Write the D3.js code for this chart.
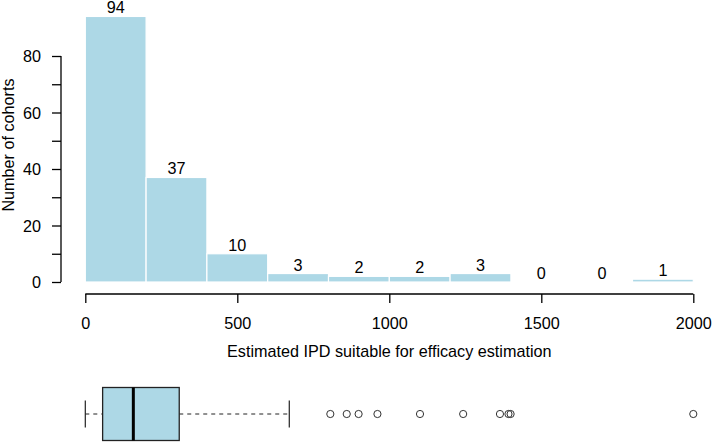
<!DOCTYPE html>
<html><head><meta charset="utf-8">
<script src="https://cdn.jsdelivr.net/npm/d3@7"></script>
<style>
body{margin:0;background:#fff;}
text{font-family:"Liberation Sans",Arial,sans-serif;fill:#000;}
</style></head><body>
<svg id="c" width="712" height="442"></svg>
<script>
// Data
const binEdges = [0,200,400,600,800,1000,1200,1400,1600,1800,2000];
const counts = [94,37,10,3,2,2,3,0,0,1];
const yTicks = [0,10,20,30,40,50,60,70,80];
const yTickLabels = [0,20,40,60,80];
const xTicks = [0,500,1000,1500,2000];
// boxplot stats: lower whisker, Q1, median, Q3, upper whisker
const boxStats = [0,57,158,309,671];
const outliers = [806,860,899,961,1101,1243,1364,1392,1399,2000];
const xLabel = "Estimated IPD suitable for efficacy estimation";
const yLabel = "Number of cohorts";

const svg = d3.select("#c");
const fs = 16.2;
const ff = '"Liberation Sans",Arial,sans-serif';
const x = d3.scaleLinear().domain([0,2000]).range([85.3,693.3]);
const y = d3.scaleLinear().domain([0,80]).range([282,56]);
const fill = "#ADD8E6";

// bars
const bins = counts.map((c,i)=>({x0:binEdges[i],x1:binEdges[i+1],c}));
svg.append("g").selectAll("rect").data(bins).join("rect")
  .attr("x",d=>x(d.x0)).attr("width",d=>x(d.x1)-x(d.x0))
  .attr("y",d=>y(d.c)).attr("height",d=>y(0)-y(d.c))
  .attr("fill",fill).attr("stroke","#fff").attr("stroke-width",1.2);
svg.append("g").selectAll("text").data(bins).join("text")
  .attr("x",d=>x((d.x0+d.x1)/2)).attr("y",d=>y(d.c)-3)
  .attr("text-anchor","middle").attr("font-size",fs)
  .text(d=>d.c);

// y axis
const yAxis = d3.axisLeft(y).tickValues(yTicks).tickSize(9)
  .tickFormat(d=>yTickLabels.includes(d)?d:"");
const gy = svg.append("g").attr("transform","translate(61,0)").call(yAxis);
gy.select(".domain").attr("d",`M0,${y(0)}V${y(80)}`).attr("stroke","#000").attr("stroke-width",1.3);
gy.selectAll(".tick line").attr("stroke","#000").attr("stroke-width",1.3);
gy.selectAll(".tick text").attr("font-size",fs).attr("font-family",ff).attr("x",-20).attr("dy","0.36em");

// x axis
const xAxis = d3.axisBottom(x).tickValues(xTicks).tickSize(9).tickFormat(d3.format("d"));
const gx = svg.append("g").attr("transform","translate(0,294)").call(xAxis);
gx.select(".domain").attr("d",`M${x(0)},0H${x(2000)}`).attr("stroke","#000").attr("stroke-width",1.3);
gx.selectAll(".tick line").attr("stroke","#000").attr("stroke-width",1.3);
gx.selectAll(".tick text").attr("font-size",fs).attr("font-family",ff).attr("y",35.3).attr("dy","0");

svg.append("text").attr("x",(x(0)+x(2000))/2).attr("y",357)
  .attr("text-anchor","middle").attr("font-size",fs).text(xLabel);
svg.append("text").attr("transform","translate(14,145) rotate(-90)")
  .attr("text-anchor","middle").attr("font-size",fs).text(yLabel);

// boxplot
const cy = 414, hh = 26.5, capH = 13.5;
const bp = svg.append("g");
bp.append("line").attr("x1",x(boxStats[0])).attr("x2",x(boxStats[1])).attr("y1",cy).attr("y2",cy)
  .attr("stroke","#222").attr("stroke-dasharray","4,4");
bp.append("line").attr("x1",x(boxStats[3])).attr("x2",x(boxStats[4])).attr("y1",cy).attr("y2",cy)
  .attr("stroke","#222").attr("stroke-dasharray","4,4");
[boxStats[0],boxStats[4]].forEach(v=>{
  bp.append("line").attr("x1",x(v)).attr("x2",x(v)).attr("y1",cy-capH).attr("y2",cy+capH)
    .attr("stroke","#222").attr("stroke-width",1.2);
});
bp.append("rect").attr("x",x(boxStats[1])).attr("width",x(boxStats[3])-x(boxStats[1]))
  .attr("y",cy-hh).attr("height",2*hh).attr("fill",fill).attr("stroke","#222").attr("stroke-width",1.3);
bp.append("line").attr("x1",x(boxStats[2])).attr("x2",x(boxStats[2])).attr("y1",cy-hh).attr("y2",cy+hh)
  .attr("stroke","#000").attr("stroke-width",3);
bp.selectAll("circle").data(outliers).join("circle")
  .attr("cx",d=>x(d)).attr("cy",cy).attr("r",3.6)
  .attr("fill","none").attr("stroke","#333").attr("stroke-width",1);
</script>
</body></html>
